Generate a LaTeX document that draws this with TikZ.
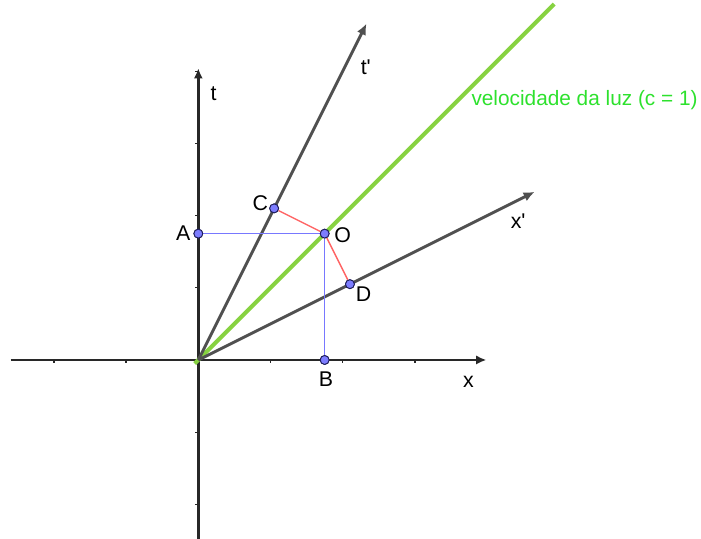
\documentclass[tikz,border=0pt]{standalone}
\usepackage{fontspec}
\setmainfont{Liberation Sans}
\usetikzlibrary{arrows.meta, positioning}
\definecolor{axInk}{RGB}{40,40,40}
\definecolor{frameInk}{RGB}{80,80,80}
\definecolor{lightLine}{RGB}{135,210,65}
\definecolor{lightText}{RGB}{45,225,45}
\definecolor{projBlue}{RGB}{120,120,255}
\definecolor{projRed}{RGB}{255,100,100}
\definecolor{ptFill}{RGB}{125,125,255}
\definecolor{ptInk}{RGB}{30,30,90}

\begin{document}
\begin{tikzpicture}[font=\fontsize{8.4}{10}\selectfont,
  axis/.style={draw=axInk,line width=1.05pt,-{Latex[length=4pt,width=3.6pt]}},
  frame/.style={draw=frameInk,line width=1.15pt,-{Latex[length=4.4pt,width=3.8pt]}},
  light/.style={draw=lightLine,line width=1.6pt},
  proj/.style={draw=projBlue,line width=0.6pt},
  perp/.style={draw=projRed,line width=0.55pt},
  pt/.style={circle,draw=ptInk,fill=ptFill,line width=0.35pt,
             inner sep=0pt,minimum size=3.5pt},
  lbl/.style={inner sep=0pt}]
\useasboundingbox (-2.747,-2.479) rectangle (6.963,4.986);

% axes
\coordinate (xmin) at (-2.6,0);
\coordinate (xmax) at (3.99,0);
\coordinate (tmin) at (0,-2.6);
\coordinate (tmax) at (0,4.04);
\coordinate (Orig) at (0,0);
\draw[axis] (xmin) -- (xmax);
\draw[axis] (tmin) -- (tmax);
\foreach \k in {-2,-1,1,2,3}
  \draw[axInk,line width=0.5pt] (\k,0) -- (\k,-0.04);
\foreach \k in {-2,-1,1,2,3,4}
  \draw[axInk,line width=0.5pt] (0,\k) -- (-0.04,\k);

% light line
\coordinate (Lbot) at (-0.05,-0.05);
\coordinate (Ltop) at (4.93,4.93);
\draw[light] (Lbot) -- (Ltop);

% moving frame
\coordinate (tpTip) at (2.33,4.66);
\coordinate (xpTip) at (4.66,2.33);
\draw[frame] (Orig) -- (tpTip);
\draw[frame] (Orig) -- (xpTip);

% points
\node[pt] (O) at (1.75,1.75) {};
\node[pt] (A) at (0,1.75) {};
\node[pt] (B) at (1.75,0) {};
\node[pt] (C) at (1.05,2.1) {};
\node[pt] (D) at (2.1,1.05) {};

\draw[proj] (A) -- (O) -- (B);
\draw[perp] (C) -- (O) -- (D);
\foreach \p in {O,A,B,C,D}
  \node[pt] at (\p) {};

% labels
\node[lbl] (labT)  at (0.21,3.69) {t};
\node[lbl] (labTp) at (2.32,4.05) {t\textquotesingle};
\node[lbl] (labX)  at (3.74,-0.30) {x};
\node[lbl] (labXp) at (4.43,1.92) {x\textquotesingle};
\node[lbl] (labA)  at (-0.21,1.75) {A};
\node[lbl] (labB)  at (1.77,-0.27) {B};
\node[lbl] (labC)  at (0.86,2.17) {C};
\node[lbl] (labO)  at (2.0,1.73) {O};
\node[lbl] (labD)  at (2.29,0.91) {D};
\node[lbl,text=lightText,font=\fontsize{8.2}{10}\selectfont] (labLuz)
  at (5.35,3.60) {velocidade da luz (c = 1)};
\end{tikzpicture}
\end{document}
